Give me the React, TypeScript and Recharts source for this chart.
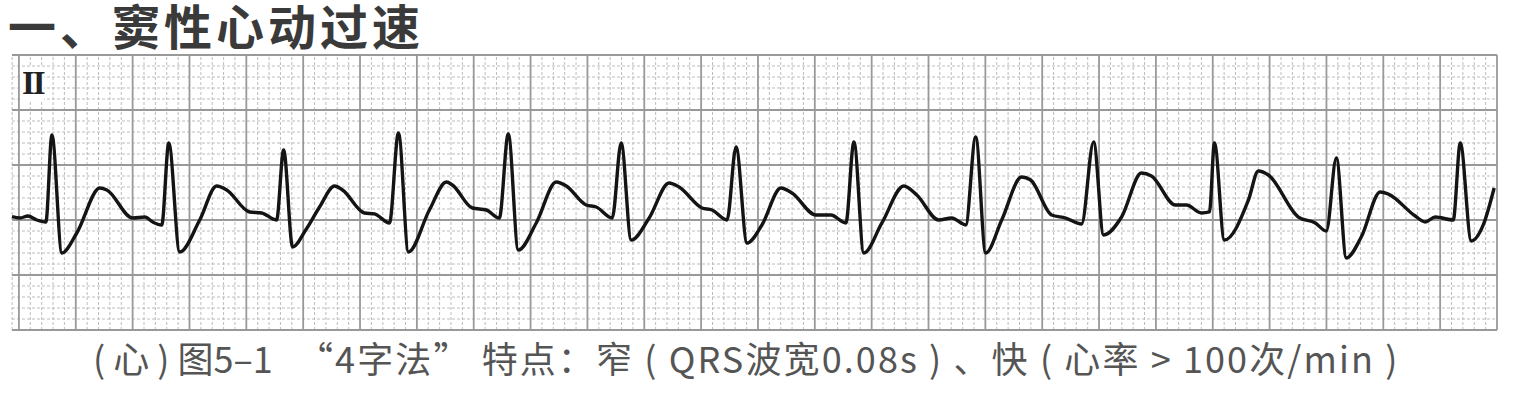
import { LineChart, Line, XAxis, YAxis, ReferenceLine } from 'recharts';

// Lead II strip.
// time in small boxes (1 mm = 0.04 s), amplitude in small boxes (1 mm = 0.1 mV)
const ecgTime = [
  -0.61, 0.09, 0.79, 1.58, 2.37, 2.9, 3.78, 5.09, 7.12, 7.73, 10.01, 11.07, 11.77, 12.56,
  13.18, 14.14, 15.9, 17.39, 18.27, 20.29, 21.35, 22.66,
  23.28, 24.07, 25.22, 26.44, 27.76, 28.46, 30.39, 31.27, 32.59,
  33.38, 34.26, 36.1, 37.6, 38.12, 39.88, 41.11, 42.25,
  43.04, 43.92, 45.5, 47.26, 48.14, 49.89, 50.77, 52.18,
  52.97, 53.85, 55.43, 57.18, 58.06, 60.08, 60.96, 62.28,
  63.07, 64.04, 65.35, 67.02, 67.99, 70.1, 71.42, 72.73,
  73.44, 74.31, 75.9, 77.83, 78.97, 80.9, 82.04, 83.27,
  84.15, 85.03, 86.44, 88.19, 88.98, 90.83, 92.06, 93.46,
  94.52, 95.4, 96.98, 98.73, 99.61, 101.72, 102.69, 104.0, 104.71,
  105.15, 106.02, 108.14, 109.01, 109.89, 112.53, 114.02, 114.99,
  115.87, 116.75, 118.06, 119.73, 120.44, 122.81, 123.69, 124.57, 126.15,
  126.77, 127.74, 128.79, 129.75,
];

const ecgAmp = [
  0.3, 0.18, 0.36, 0, -0.18, 7.73, -3.0, -1.18, 2.91, 2.73, 0.18, 0.27, -0.18, -0.45,
  7.0, -2.91, 0, 3.09, 2.73, 0.73, 0.64, 0,
  6.36, -2.45, -0.91, 1.18, 3.09, 2.73, 0.64, 0.55, -0.27,
  7.91, -2.91, 0.91, 3.45, 3.18, 1.09, 0.91, 0.18,
  7.82, -2.73, -0.27, 3.45, 3.09, 1.36, 1.18, 0.18,
  7.0, -1.82, 0.18, 3.36, 3.0, 1.09, 0.91, 0,
  6.64, -2.09, -0.45, 2.91, 2.45, 0.45, 0.45, -0.27,
  7.09, -3.0, -0.27, 3.09, 2.27, 0, 0.18, -0.45,
  7.55, -3.0, 0, 3.91, 3.64, 0.45, 0.18, -0.36,
  7.09, -1.36, 0.27, 4.27, 4.0, 1.36, 1.36, 0.64, 0.73,
  7.0, -1.82, 1.82, 4.45, 4.09, 0.27, -0.27, -1.0,
  5.64, -3.45, -1.55, 2.55, 2.36, 0.36, -0.18, 0.27, 0,
  7.0, -1.91, -0.45, 2.91,
];

// paper grid: thick line every 5 small boxes
const xMajor = [0, 5, 10, 15, 20, 25, 30, 35, 40, 45, 50, 55, 60, 65, 70, 75, 80, 85, 90, 95, 100, 105, 110, 115, 120, 125, 130];
const yMajor = [-10, -5, 0, 5, 10, 15];
const xMinor = Array.from({ length: 130 }, (_, i) => i).filter((v) => v % 5 !== 0).concat([-0.6]);
const yMinor = Array.from({ length: 25 }, (_, i) => i - 10).filter((v) => v % 5 !== 0);

const data = ecgTime.map((t, i) => ({ t, v: ecgAmp[i] }));

const MINOR = '#bdbdbd';
const MAJOR = '#999999';

const captionStyle = {
  position: 'absolute' as const,
  top: 334,
  fontFamily: '"Noto Sans CJK SC", sans-serif',
  fontSize: 36,
  lineHeight: 1.3,
  color: '#555',
  whiteSpace: 'pre' as const,
};

export default function App() {
  return (
    <div style={{ position: 'absolute', left: 0, top: 0, width: 1530, height: 404, background: '#fff', overflow: 'hidden' }}>
      <div
        style={{
          position: 'absolute',
          left: 8,
          top: 0,
          fontFamily: '"Noto Sans CJK SC", sans-serif',
          fontWeight: 700,
          fontSize: 48,
          letterSpacing: 4,
          lineHeight: 1,
          color: '#3a3a3a',
          whiteSpace: 'nowrap',
        }}
      >
        一、窦性心动过速
      </div>

      <LineChart
        width={1530}
        height={404}
        data={data}
        margin={{ top: 55, right: 33, bottom: 74, left: 12 }}
        style={{ position: 'absolute', left: 0, top: 0 }}
      >
        <XAxis type="number" dataKey="t" domain={[-0.6, 130]} hide />
        <YAxis type="number" domain={[-10, 15]} hide />
        {xMinor.map((x) => (
          <ReferenceLine key={'xm' + x} x={x} stroke={MINOR} strokeWidth={1} strokeDasharray="3 2" />
        ))}
        {yMinor.map((y) => (
          <ReferenceLine key={'ym' + y} y={y} stroke={MINOR} strokeWidth={1} strokeDasharray="3 2" />
        ))}
        {xMajor.map((x) => (
          <ReferenceLine key={'xM' + x} x={x} stroke={MAJOR} strokeWidth={1.8} />
        ))}
        {yMajor.map((y) => (
          <ReferenceLine key={'yM' + y} y={y} stroke={MAJOR} strokeWidth={1.8} />
        ))}
        <Line
          type="monotone"
          dataKey="v"
          stroke="#141414"
          strokeWidth={3.4}
          dot={false}
          isAnimationActive={false}
        />
      </LineChart>

      <div
        style={{
          position: 'absolute',
          left: 22,
          top: 67,
          fontFamily: '"Liberation Serif", serif',
          fontWeight: 700,
          fontSize: 33,
          lineHeight: 1,
          color: '#222',
          background: '#fff',
          letterSpacing: -2,
        }}
      >
        II
      </div>

      <div style={{ ...captionStyle, left: 93, letterSpacing: 0 }}>( 心 ) 图5–1</div>
      <div style={{ ...captionStyle, left: 297, letterSpacing: 2.1 }}>
        “4字法” 特点：窄 ( QRS波宽0.08s ) 、快 ( 心率 &gt; 100次/min )
      </div>
    </div>
  );
}
